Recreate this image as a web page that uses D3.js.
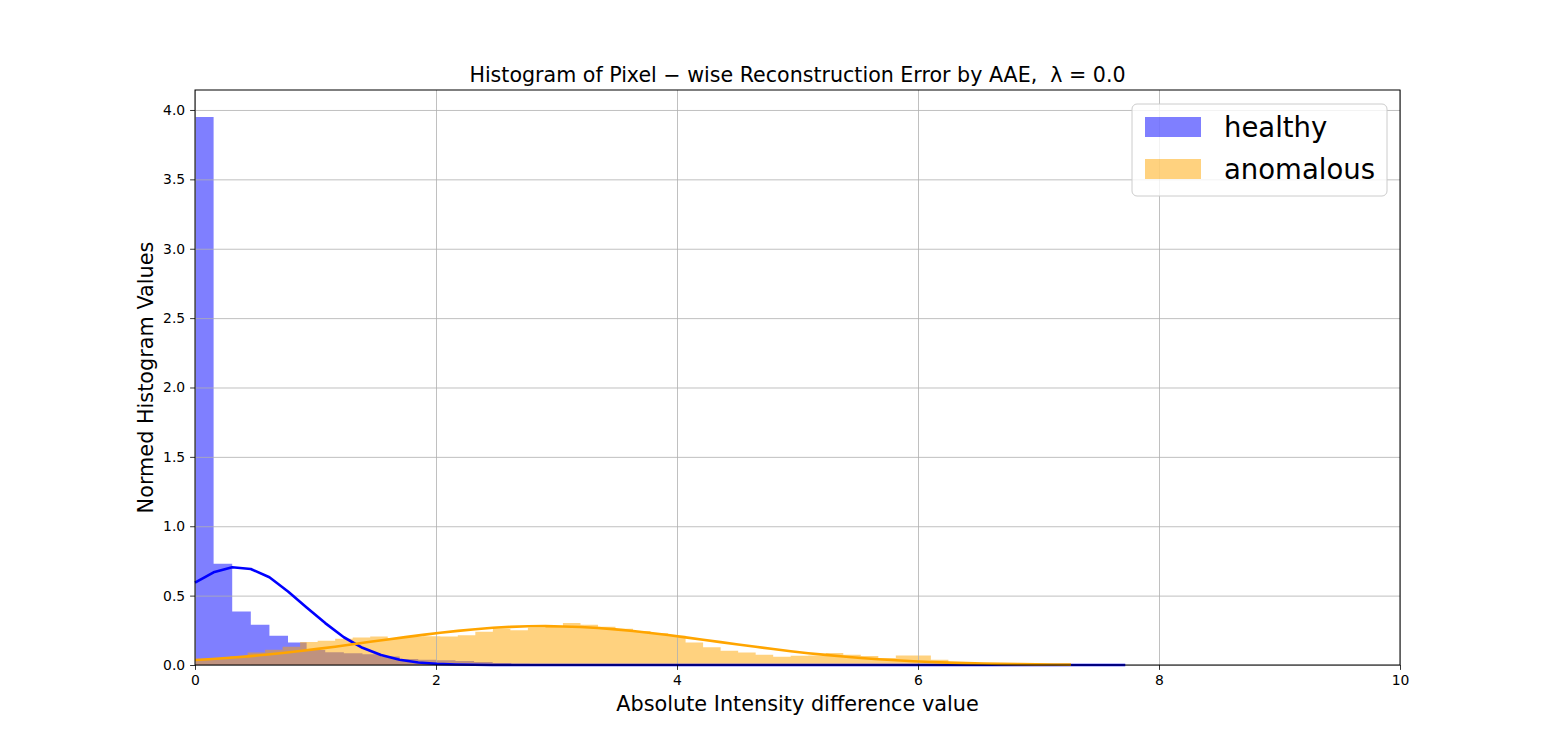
<!DOCTYPE html>
<html>
<head>
<meta charset="utf-8">
<script src="https://cdn.jsdelivr.net/npm/d3@7"></script>
<style>
  body { margin: 0; background: #fff; }
  text { font-family: "DejaVu Sans", sans-serif; }
</style>
</head>
<body>
<div id="chart"></div>
<script>
// histogram values, 50 bins each
var healthyMax = 7.72;
var anomalousMax = 7.27;
var healthyHist = [3.95, 0.73, 0.385, 0.29, 0.211, 0.163, 0.108, 0.092, 0.084, 0.077,
  0.062, 0.044, 0.037, 0.035, 0.029, 0.022, 0.015, 0.009, 0.007, 0.005,
  0.004, 0.003, 0.003, 0.002, 0.002, 0.002, 0.001, 0.001, 0.001, 0.001,
  0.001, 0.001, 0.001, 0.001, 0.001, 0.001, 0.001, 0.001, 0.001, 0.001,
  0.001, 0.001, 0.001, 0.001, 0.001, 0.001, 0.001, 0.001, 0.001, 0.001];
var anomalousHist = [0.040, 0.048, 0.065, 0.090, 0.110, 0.132, 0.165, 0.175, 0.190, 0.198,
  0.205, 0.195, 0.205, 0.207, 0.205, 0.215, 0.240, 0.262, 0.250, 0.268,
  0.276, 0.303, 0.290, 0.275, 0.262, 0.245, 0.228, 0.210, 0.163, 0.128,
  0.103, 0.090, 0.074, 0.060, 0.066, 0.068, 0.087, 0.073, 0.065, 0.050,
  0.068, 0.068, 0.037, 0.018, 0.010, 0.007, 0.005, 0.004, 0.003, 0.002];
// fitted curves, read at the 51 bin edges
var healthyFit = [0.593, 0.668, 0.704, 0.692, 0.632, 0.530, 0.415, 0.302, 0.200, 0.124,
  0.072, 0.038, 0.018, 0.008, 0.0035, 0.0014, 0.0005, 0.0002, 0, 0,
  0, 0, 0, 0, 0, 0, 0, 0, 0, 0,
  0, 0, 0, 0, 0, 0, 0, 0, 0, 0,
  0, 0, 0, 0, 0, 0, 0, 0, 0, 0, 0];
var anomalousFit = [0.036, 0.043, 0.052, 0.062, 0.074, 0.087, 0.101, 0.116, 0.132, 0.149,
  0.167, 0.184, 0.201, 0.217, 0.233, 0.246, 0.258, 0.268, 0.275, 0.279,
  0.280, 0.278, 0.274, 0.267, 0.257, 0.245, 0.231, 0.216, 0.199, 0.182,
  0.165, 0.148, 0.131, 0.115, 0.099, 0.085, 0.073, 0.061, 0.051, 0.042,
  0.034, 0.027, 0.022, 0.017, 0.0135, 0.0104, 0.008, 0.006, 0.0045, 0.0034, 0.0025];
var xTicks = [0, 2, 4, 6, 8, 10];
var yTicks = [0, 0.5, 1, 1.5, 2, 2.5, 3, 3.5, 4];
var seriesNames = ["healthy", "anomalous"];

// set svg vars
var svgWidth = 1556;
var svgHeight = 748;
var margin = { top: 90, right: 156, bottom: 83, left: 195 };
var width = svgWidth - margin.left - margin.right;
var height = svgHeight - margin.top - margin.bottom;

var svg = d3.select("#chart").append("svg")
    .attr("width", svgWidth)
    .attr("height", svgHeight);

var chartGroup = svg.append("g")
    .attr("transform", `translate(${margin.left}, ${margin.top})`);

var xScale = d3.scaleLinear().domain([0, 10]).range([0, width]);
var yScale = d3.scaleLinear().domain([0, 4.144]).range([height, 0]);

// turn counts into bins with edges
function makeBins(vals, maxVal) {
  var w = maxVal / vals.length;
  return vals.map(function(v, i) { return { x0: i * w, x1: (i + 1) * w, y: v }; });
}
function makePoints(vals, maxVal) {
  var w = maxVal / (vals.length - 1);
  return vals.map(function(v, i) { return [i * w, v]; });
}

var healthyBins = makeBins(healthyHist, healthyMax);
var anomalousBins = makeBins(anomalousHist, anomalousMax);

// bars, drawn as one path per series so no seams show
function barsPath(bins) {
  var p = d3.path();
  bins.forEach(function(d) {
    p.rect(xScale(d.x0), yScale(d.y), xScale(d.x1) - xScale(d.x0), height - yScale(d.y));
  });
  return p.toString();
}
chartGroup.append("path")
    .attr("d", barsPath(healthyBins))
    .attr("fill", "blue")
    .attr("fill-opacity", 0.5);
chartGroup.append("path")
    .attr("d", barsPath(anomalousBins))
    .attr("fill", "orange")
    .attr("fill-opacity", 0.5);

// grid
chartGroup.append("g")
    .attr("class", "grid")
    .attr("transform", `translate(0, ${height})`)
    .call(d3.axisBottom(xScale).tickValues(xTicks).tickSize(-height).tickFormat(""));
chartGroup.append("g")
    .attr("class", "grid")
    .call(d3.axisLeft(yScale).tickValues(yTicks).tickSize(-width).tickFormat(""));
chartGroup.selectAll(".grid line").attr("stroke", "#b0b0b0").attr("stroke-width", 0.8);
chartGroup.selectAll(".grid .domain").remove();

// fitted lines
var line = d3.line().x(d => xScale(d[0])).y(d => yScale(d[1]));
chartGroup.append("path")
    .datum(makePoints(healthyFit, healthyMax))
    .attr("d", line)
    .attr("fill", "none")
    .attr("stroke", "blue")
    .attr("stroke-width", 2.6)
    .attr("stroke-linejoin", "round");
chartGroup.append("path")
    .datum(makePoints(anomalousFit, anomalousMax))
    .attr("d", line)
    .attr("fill", "none")
    .attr("stroke", "orange")
    .attr("stroke-width", 2.6)
    .attr("stroke-linejoin", "round");

// spines
chartGroup.append("rect")
    .attr("width", width).attr("height", height)
    .attr("fill", "none").attr("stroke", "black").attr("stroke-width", 1);

// axes
var xAxis = chartGroup.append("g")
    .attr("transform", `translate(0, ${height})`)
    .call(d3.axisBottom(xScale).tickValues(xTicks).tickSize(4.9).tickPadding(4.9).tickFormat(d3.format("d")));
var yAxis = chartGroup.append("g")
    .call(d3.axisLeft(yScale).tickValues(yTicks).tickSize(4.9).tickPadding(4.9).tickFormat(d3.format(".1f")));
[xAxis, yAxis].forEach(function(ax) {
  ax.select(".domain").remove();
  ax.selectAll("text").attr("font-size", "13.9px").attr("font-family", "DejaVu Sans").attr("fill", "black");
  ax.selectAll("line").attr("stroke", "black").attr("stroke-width", 0.8);
});

// title (keep the double space before lambda)
svg.append("text")
    .attr("x", margin.left + width / 2)
    .attr("y", 82)
    .attr("text-anchor", "middle")
    .attr("font-size", "20.6px")
    .style("white-space", "pre")
    .text("Histogram of Pixel \u2212 wise Reconstruction Error by AAE,  \u03bb = 0.0");

// axis labels
svg.append("text")
    .attr("x", margin.left + width / 2)
    .attr("y", 711)
    .attr("text-anchor", "middle")
    .attr("font-size", "20.8px")
    .text("Absolute Intensity difference value");
svg.append("text")
    .attr("transform", `translate(153, ${margin.top + height / 2}) rotate(-90)`)
    .attr("text-anchor", "middle")
    .attr("font-size", "20.8px")
    .text("Normed Histogram Values");

// legend
var legend = svg.append("g").attr("transform", "translate(1132, 104)");
legend.append("rect")
    .attr("width", 255).attr("height", 92)
    .attr("rx", 5).attr("ry", 5)
    .attr("fill", "white").attr("fill-opacity", 0.8)
    .attr("stroke", "#cccccc").attr("stroke-width", 1);
var legendColors = ["blue", "orange"];
seriesNames.forEach(function(name, i) {
  legend.append("rect")
      .attr("x", 13).attr("y", 13 + i * 42)
      .attr("width", 56).attr("height", 20)
      .attr("fill", legendColors[i]).attr("fill-opacity", 0.5);
  legend.append("text")
      .attr("x", 92).attr("y", 33 + i * 42)
      .attr("font-size", "27.5px")
      .text(name);
});
</script>
</body>
</html>
